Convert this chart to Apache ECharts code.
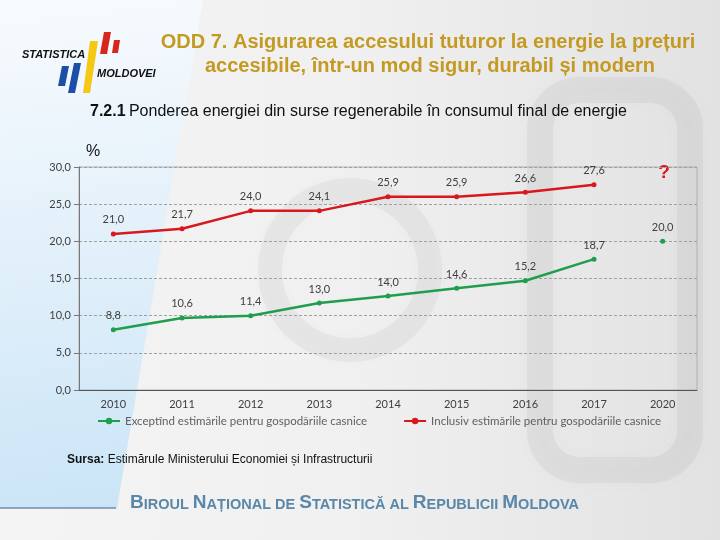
<!DOCTYPE html>
<html>
<head>
<meta charset="utf-8">
<script src="https://cdn.jsdelivr.net/npm/echarts@6/dist/echarts.min.js"></script>
<style>html,body{margin:0;padding:0;background:#fff;}#c{width:720px;height:540px;}</style>
</head>
<body>
<div id="c"></div>
<script>
var years = ['2010','2011','2012','2013','2014','2015','2016','2017','2020'];
var redValues = [21.0, 21.7, 24.1, 24.1, 26.0, 26.0, 26.6, 27.6, null];
var redLabels = ['21,0','21,7','24,0','24,1','25,9','25,9','26,6','27,6',''];
var greenValues = [8.1, 9.7, 10.0, 11.7, 12.65, 13.7, 14.7, 17.6, null];
var greenLabels = ['8,8','10,6','11,4','13,0','14,0','14,6','15,2','18,7',''];
var green2020 = [null, null, null, null, null, null, null, null, 20.0];
var green2020Labels = ['','','','','','','','','20,0'];
var yTicks = [0, 5, 10, 15, 20, 25, 30];
var nameGreen = 'Exceptînd estimările pentru gospodăriile casnice';
var nameRed = 'Inclusiv estimările pentru gospodăriile casnice';

var chart = echarts.init(document.getElementById('c'), null, {renderer: 'canvas'});
var lblStyle = {fontFamily: 'Lato', fontSize: 11, color: '#404040'};
function lab(arr){ return function(p){ return arr[p.dataIndex]; }; }

var option = {
  animation: false,
  graphic: [
    {type: 'rect', z: -10, silent: true, shape: {x: 0, y: 0, width: 720, height: 540},
     style: {fill: new echarts.graphic.LinearGradient(0, 0, 1, 0, [
       {offset: 0, color: '#f4f4f4'}, {offset: 0.5, color: '#f0f0f0'}, {offset: 1, color: '#e2e2e2'}])}},
    // faint watermark shapes
    {type: 'rect', z: -9, silent: true, shape: {x: 540, y: 90, width: 150, height: 380, r: 40},
     style: {fill: 'none', stroke: 'rgba(150,150,150,0.12)', lineWidth: 26, shadowBlur: 20, shadowColor: 'rgba(120,120,120,0.15)'}},
    {type: 'circle', z: -9, silent: true, shape: {cx: 350, cy: 270, r: 80},
     style: {fill: 'none', stroke: 'rgba(150,150,150,0.10)', lineWidth: 24, shadowBlur: 20, shadowColor: 'rgba(120,120,120,0.12)'}},
    {type: 'polygon', z: -8, silent: true, shape: {points: [[0,0],[203,0],[117,508],[0,508]]},
     style: {fill: new echarts.graphic.LinearGradient(0, 0, 0.3, 1, [
       {offset: 0, color: '#f8fbfe'}, {offset: 0.5, color: '#e2f0fa'}, {offset: 1, color: '#cbe5f7'}])}},
    {type: 'line', z: -7, silent: true, shape: {x1: 0, y1: 508, x2: 116, y2: 508}, style: {stroke: '#6f8fae', lineWidth: 1.5}},
    // logo
    {type: 'polygon', silent: true, shape: {points: [[104,32],[111,32],[107,54],[100,54]]}, style: {fill: '#d7261e'}},
    {type: 'polygon', silent: true, shape: {points: [[114,40],[120,40],[118,53],[112,53]]}, style: {fill: '#d7261e'}},
    {type: 'polygon', silent: true, shape: {points: [[90,41],[98,41],[90,93],[83,93]]}, style: {fill: '#f4c813'}},
    {type: 'polygon', silent: true, shape: {points: [[62,66],[69,66],[65,86],[58,86]]}, style: {fill: '#1c4fa8'}},
    {type: 'polygon', silent: true, shape: {points: [[74,63],[81,63],[75,93],[68,93]]}, style: {fill: '#1c4fa8'}},
    {type: 'text', silent: true, left: 22, top: 49, style: {text: 'STATISTICA', font: 'italic bold 11px "Liberation Sans"', fill: '#111'}},
    {type: 'text', silent: true, left: 97, top: 68, style: {text: 'MOLDOVEI', font: 'italic bold 11px "Liberation Sans"', fill: '#111'}},
    // titles
    {type: 'text', silent: true, x: 428, y: 42, style: {text: 'ODD 7. Asigurarea accesului tuturor la energie la prețuri', font: 'bold 20px "Liberation Sans"', fill: '#c49a22', align: 'center', verticalAlign: 'middle'}},
    {type: 'text', silent: true, x: 430, y: 66, style: {text: 'accesibile, într-un mod sigur, durabil și modern', font: 'bold 20px "Liberation Sans"', fill: '#c49a22', align: 'center', verticalAlign: 'middle'}},
    {type: 'text', silent: true, x: 90, y: 112, style: {text: '{b|7.2.1} {n|Ponderea energiei din surse regenerabile în consumul final de energie}', verticalAlign: 'middle',
      rich: {b: {font: 'bold 16px "Liberation Sans"', fill: '#111'}, n: {font: '16px "Liberation Sans"', fill: '#111'}}}},
    {type: 'text', silent: true, x: 86, y: 152, style: {text: '%', font: '16px "Liberation Sans"', fill: '#111', verticalAlign: 'middle'}},
    {type: 'text', silent: true, x: 664, y: 173, style: {text: '?', font: 'bold 19px "Liberation Sans"', fill: '#d7161e', align: 'center', verticalAlign: 'middle'}},
    {type: 'text', silent: true, x: 67, y: 460, style: {text: '{b|Sursa:} {n|Estimărule Ministerului Economiei și Infrastructurii}', verticalAlign: 'middle',
      rich: {b: {font: 'bold 12px "Liberation Sans Narrow", "Liberation Sans"', fill: '#111'}, n: {font: '12px "Liberation Sans Narrow", "Liberation Sans"', fill: '#111'}}}},
    {type: 'text', silent: true, x: 130, y: 503, style: {
      text: '{B|B}{s|IROUL }{B|N}{s|AȚIONAL DE }{B|S}{s|TATISTICĂ AL }{B|R}{s|EPUBLICII }{B|M}{s|OLDOVA}', verticalAlign: 'middle',
      rich: {B: {font: 'bold 19px "Liberation Sans"', fill: '#5b87a8', verticalAlign: 'bottom'}, s: {font: 'bold 14.5px "Liberation Sans"', fill: '#5b87a8', verticalAlign: 'bottom'}}}}
  ],
  grid: {left: 79, right: 23, top: 167, bottom: 150, show: true, borderColor: '#b0b0b0', borderWidth: 1, backgroundColor: 'transparent'},
  legend: {
    bottom: 108, left: 92, itemGap: 36, itemWidth: 22, itemHeight: 8,
    data: [nameGreen, nameRed],
    textStyle: {fontFamily: 'Lato', fontSize: 11.5, color: '#606060'}
  },
  xAxis: {
    type: 'category', data: years, boundaryGap: true,
    axisLine: {lineStyle: {color: '#555', width: 1}},
    axisTick: {alignWithLabel: true, length: 5, lineStyle: {color: '#555'}},
    axisLabel: {fontFamily: 'Lato', fontSize: 11, color: '#404040', margin: 9}
  },
  yAxis: {
    type: 'value', min: yTicks[0], max: yTicks[yTicks.length - 1], interval: 5,
    axisLine: {show: true, lineStyle: {color: '#777'}},
    axisTick: {show: true, length: 5, lineStyle: {color: '#777'}},
    axisLabel: {fontFamily: 'Lato', fontSize: 11, color: '#404040', margin: 8,
      formatter: function(v){ return v.toFixed(1).replace('.', ','); }},
    splitLine: {show: true, lineStyle: {color: '#a0a0a0', type: [3, 2], width: 1}}
  },
  series: [
    {name: nameGreen, type: 'line', data: greenValues, color: '#1f9e4e',
     symbol: 'circle', symbolSize: 5, lineStyle: {width: 2.5},
     label: Object.assign({show: true, position: 'top', distance: 6, formatter: lab(greenLabels)}, lblStyle)},
    {name: nameGreen, type: 'line', data: green2020, color: '#1f9e4e',
     symbol: 'circle', symbolSize: 5, lineStyle: {width: 2.5},
     label: Object.assign({show: true, position: 'top', distance: 6, formatter: lab(green2020Labels)}, lblStyle)},
    {name: nameRed, type: 'line', data: redValues, color: '#d8181e',
     symbol: 'circle', symbolSize: 5, lineStyle: {width: 2.5},
     label: Object.assign({show: true, position: 'top', distance: 6, formatter: lab(redLabels)}, lblStyle)}
  ]
};
chart.setOption(option);
</script>
</body>
</html>
